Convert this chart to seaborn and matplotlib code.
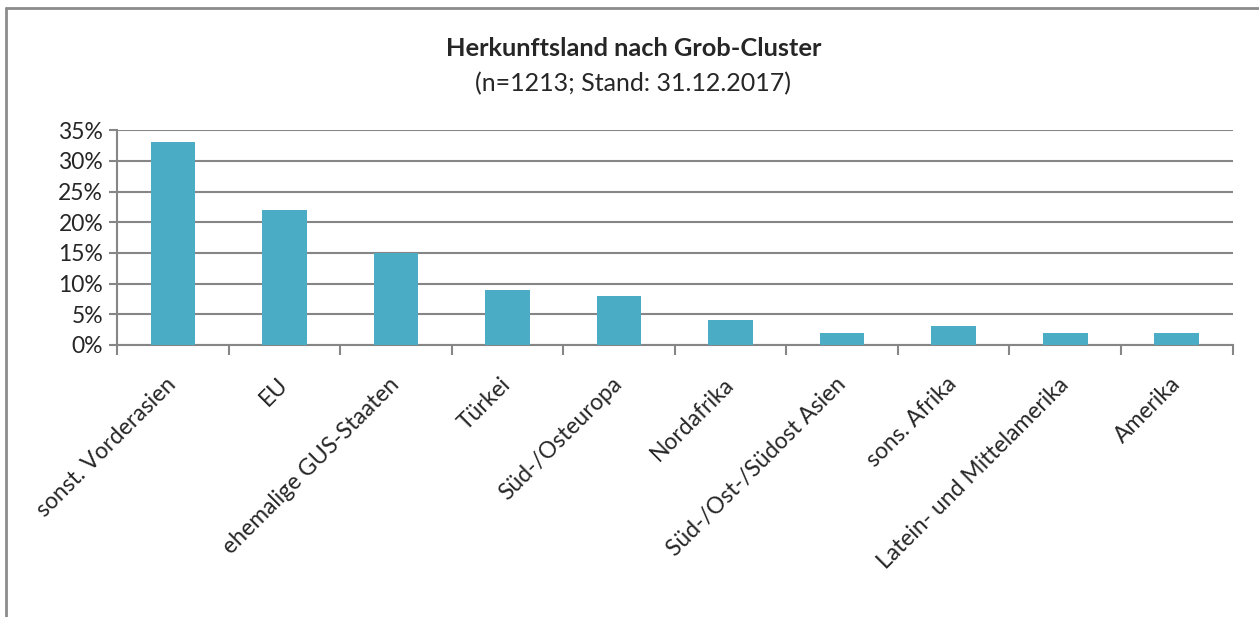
import pandas as pd
import matplotlib.pyplot as plt
import seaborn as sns
from matplotlib.lines import Line2D
from matplotlib.ticker import PercentFormatter, FixedLocator

regions = ["sonst. Vorderasien", "EU", "ehemalige GUS-Staaten", "Türkei", "Süd-/Osteuropa",
           "Nordafrika", "Süd-/Ost-/Südost Asien", "sons. Afrika", "Latein- und Mittelamerika", "Amerika"]
shares = [0.33, 0.22, 0.15, 0.09, 0.08, 0.04, 0.02, 0.03, 0.02, 0.02]
yticks = [0, 0.05, 0.10, 0.15, 0.20, 0.25, 0.30, 0.35]

data = pd.DataFrame({"Region": regions, "Anteil": shares})

sns.set_style("white")
plt.rcParams['font.family'] = ['Lato', 'DejaVu Sans']

fig = plt.figure(figsize=(12.59, 6.17), dpi=100)
ax = fig.add_axes([0.093, 0.441, 0.886, 0.348])

sns.barplot(data=data, x="Region", y="Anteil", color="#4BACC6", width=0.4, saturation=1,
            linewidth=0, ax=ax, zorder=3)

grid_c = "#868686"
ax.set_ylim(0, 0.35)
ax.set_xlim(-0.5, len(regions) - 0.5)
ax.yaxis.set_major_locator(FixedLocator(yticks))
ax.yaxis.set_major_formatter(PercentFormatter(1.0, decimals=0))
ax.yaxis.grid(True, color=grid_c, linewidth=1.5)
ax.set_axisbelow(True)
for s in ["top", "right"]:
    ax.spines[s].set_visible(False)
for s in ["left", "bottom"]:
    ax.spines[s].set_color(grid_c)
    ax.spines[s].set_linewidth(1.5)

ax.tick_params(axis="y", which="major", length=6, width=1.5, color=grid_c, labelsize=16.5, pad=4, left=True)
ax.set_xticks(range(len(regions)))
ax.set_xticklabels(regions, rotation=45, ha="right", va="center", rotation_mode="anchor", fontsize=16.5)
ax.tick_params(axis="x", which="major", length=0, pad=26)
ax.set_xticks([i - 0.5 for i in range(len(regions) + 1)], minor=True)
ax.tick_params(axis="x", which="minor", length=7, width=1.5, color=grid_c, bottom=True)
ax.set_xlabel("")
ax.set_ylabel("")

fig.text(0.503, 0.922, "Herkunftsland nach Grob-Cluster", ha="center", va="center",
         fontsize=18.3, fontweight="bold")
fig.text(0.503, 0.865, "(n=1213; Stand: 31.12.2017)", ha="center", va="center", fontsize=18)

# frame of the chart area (top and left edges visible)
fig.add_artist(Line2D([0.005, 0.005], [0, 0.987], color="#8c8c8c", linewidth=2, transform=fig.transFigure))
fig.add_artist(Line2D([0.005, 1], [0.987, 0.987], color="#8c8c8c", linewidth=2, transform=fig.transFigure))

fig.savefig("out.png", dpi=100, facecolor="white")
